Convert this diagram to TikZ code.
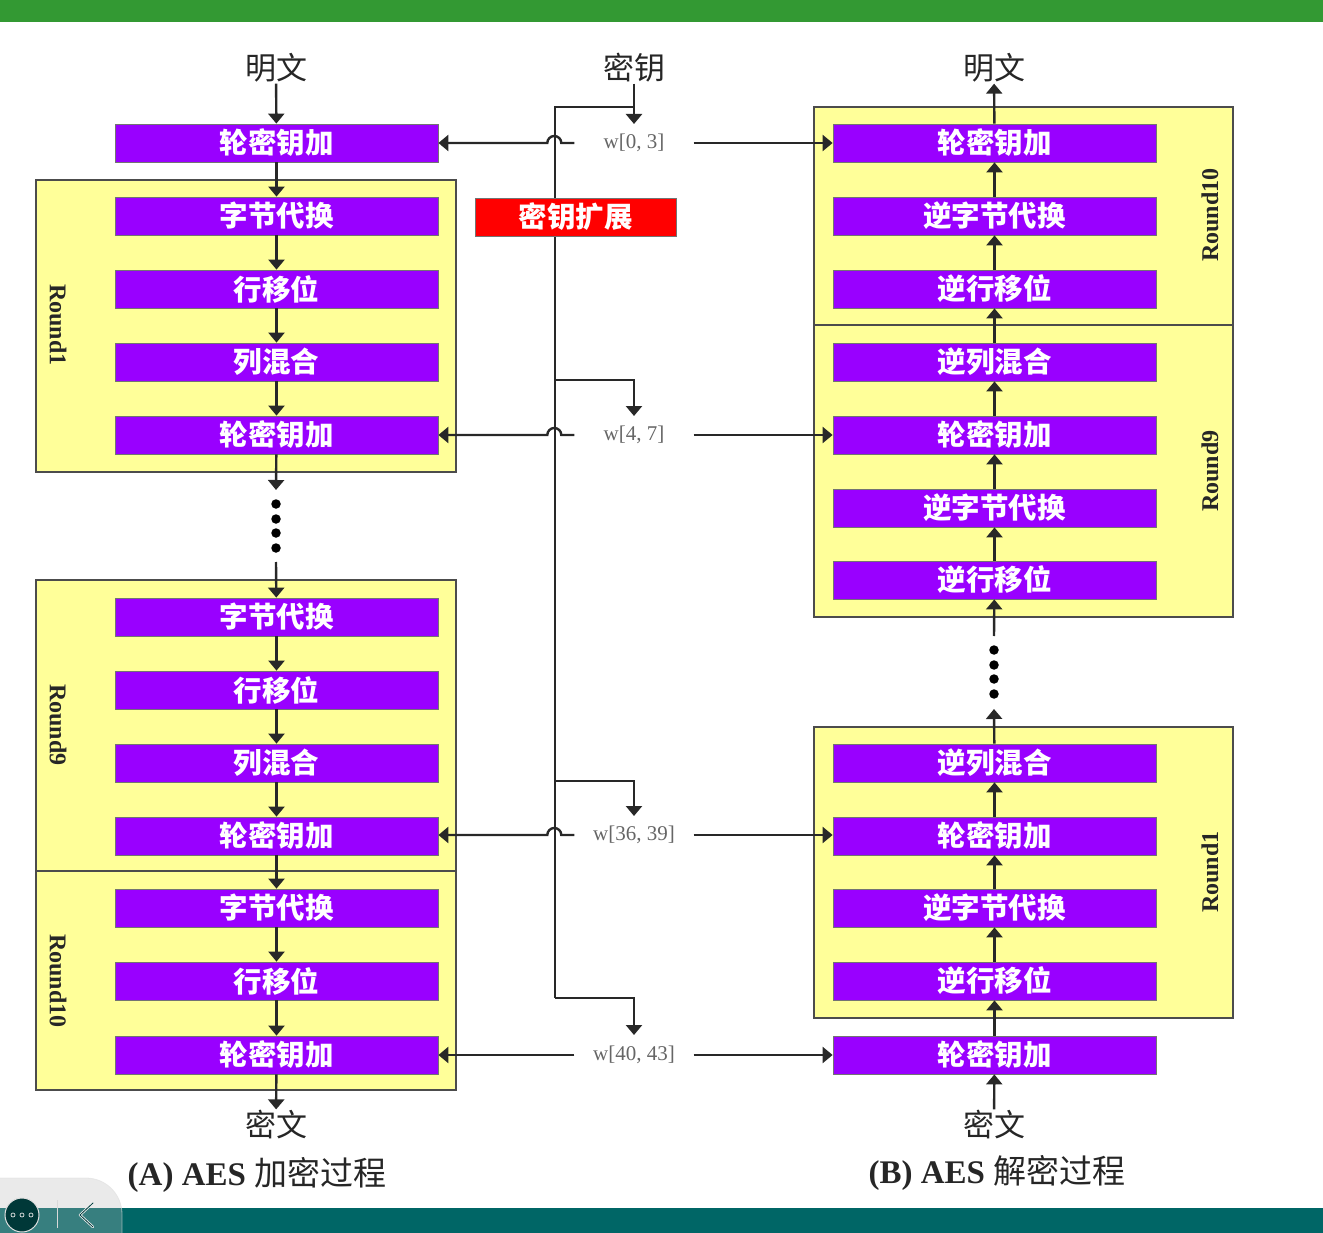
\documentclass[tikz,border=0pt]{standalone}
\usepackage{fontspec}
\setmainfont{Liberation Serif}
\newfontfamily\cjk{Noto Sans CJK SC}
\usetikzlibrary{arrows.meta}
\definecolor{topgreen}{RGB}{51,153,51}
\definecolor{botteal}{RGB}{0,102,102}
\definecolor{violetbox}{RGB}{153,0,255}
\definecolor{paleyellow}{RGB}{255,255,153}
\definecolor{keyred}{RGB}{255,0,0}
\definecolor{linegray}{RGB}{40,40,40}
\begin{document}
\begin{tikzpicture}[x=1pt,y=1pt,
  opbox/.style={fill=violetbox, draw=black!55, line width=0.8pt, minimum width=323pt, minimum height=38pt, inner sep=0pt, text=white, font=\cjk\bfseries\fontsize{28.5}{30}\selectfont},
  keybox/.style={opbox, fill=keyred, minimum width=201pt},
  frame/.style={fill=paleyellow, draw=black!70, line width=1.8pt},
  lbl/.style={font=\cjk\fontsize{31}{33}\selectfont, text=black!85, inner sep=1pt},
  rlbl/.style={font=\bfseries\fontsize{24}{26}\selectfont, text=black!85},
  wlbl/.style={font=\fontsize{21}{23}\selectfont, text=black!60, minimum width=119pt, inner sep=0pt},
  captxt/.style={font=\fontsize{33}{35}\selectfont, text=black!85},
  ln/.style={draw=linegray, line width=2.4pt},
  arr/.style={ln, -{Triangle[width=16pt,length=10pt]}},
  dotc/.style={circle, fill=black, minimum size=9.5pt, inner sep=0pt},
]
\useasboundingbox (0,0) rectangle (1323,-1233);
% bars
\fill[topgreen] (0,0) rectangle (1323,-22);
\fill[botteal] (0,-1208) rectangle (1323,-1233);

% frames left
\draw[frame] (36,-180) rectangle (456,-472);
\draw[frame] (36,-580) rectangle (456,-871);
\draw[frame] (36,-871) rectangle (456,-1090);
% frames right
\draw[frame] (814,-107) rectangle (1233,-325);
\draw[frame] (814,-325) rectangle (1233,-617);
\draw[frame] (814,-727) rectangle (1233,-1018);

% round labels
\node[rlbl, rotate=-90] (rl1) at (58,-325) {Round1};
\node[rlbl, rotate=-90] (rl9) at (58,-725) {Round9};
\node[rlbl, rotate=-90] (rl10) at (58,-981) {Round10};
\node[rlbl, rotate=90] (rr10) at (1210,-215) {Round10};
\node[rlbl, rotate=90] (rr9) at (1210,-471) {Round9};
\node[rlbl, rotate=90] (rr1) at (1210,-872) {Round1};

% left boxes
\node[opbox] (L0) at (276.5,-143) {轮密钥加};
\node[opbox] (L1a) at (276.5,-216) {字节代换};
\node[opbox] (L1b) at (276.5,-289) {行移位};
\node[opbox] (L1c) at (276.5,-362) {列混合};
\node[opbox] (L1d) at (276.5,-435) {轮密钥加};
\node[opbox] (L9a) at (276.5,-617) {字节代换};
\node[opbox] (L9b) at (276.5,-690) {行移位};
\node[opbox] (L9c) at (276.5,-763) {列混合};
\node[opbox] (L9d) at (276.5,-836) {轮密钥加};
\node[opbox] (L10a) at (276.5,-908) {字节代换};
\node[opbox] (L10b) at (276.5,-981) {行移位};
\node[opbox] (L10c) at (276.5,-1055) {轮密钥加};

% right boxes
\node[opbox] (R10a) at (994.5,-143) {轮密钥加};
\node[opbox] (R10b) at (994.5,-216) {逆字节代换};
\node[opbox] (R10c) at (994.5,-289) {逆行移位};
\node[opbox] (R9a) at (994.5,-362) {逆列混合};
\node[opbox] (R9b) at (994.5,-435) {轮密钥加};
\node[opbox] (R9c) at (994.5,-508) {逆字节代换};
\node[opbox] (R9d) at (994.5,-580) {逆行移位};
\node[opbox] (R1a) at (994.5,-763) {逆列混合};
\node[opbox] (R1b) at (994.5,-836) {轮密钥加};
\node[opbox] (R1c) at (994.5,-908) {逆字节代换};
\node[opbox] (R1d) at (994.5,-981) {逆行移位};
\node[opbox] (R0) at (994.5,-1055) {轮密钥加};

% text labels
\node[lbl] (ptL) at (276,-68) {明文};
\node[lbl] (ctL) at (276,-1125) {密文};
\node[lbl] (ptR) at (994,-68) {明文};
\node[lbl] (ctR) at (994,-1125) {密文};
\node[lbl] (key) at (634,-68) {密钥};
\node[captxt] (capA) at (257,-1175) {\bfseries (A) AES {\mdseries\cjk 加密过程}};
\node[captxt] (capB) at (997,-1173) {\bfseries (B) AES {\mdseries\cjk 解密过程}};

% left flow
\draw[arr] (ptL) -- (L0);
\draw[arr] (L0) -- (L1a);
\draw[arr] (L1a) -- (L1b);
\draw[arr] (L1b) -- (L1c);
\draw[arr] (L1c) -- (L1d);
\coordinate (ldA) at (276,-490);
\coordinate (ldB) at (276,-562);
\draw[arr] (L1d) -- (ldA);
\node[dotc] (ld1) at (276,-504) {};
\node[dotc] (ld2) at (276,-519) {};
\node[dotc] (ld3) at (276,-533) {};
\node[dotc] (ld4) at (276,-548) {};
\draw[arr] (ldB) -- (L9a);
\draw[arr] (L9a) -- (L9b);
\draw[arr] (L9b) -- (L9c);
\draw[arr] (L9c) -- (L9d);
\draw[arr] (L9d) -- (L10a);
\draw[arr] (L10a) -- (L10b);
\draw[arr] (L10b) -- (L10c);
\draw[arr] (L10c) -- (ctL);

% right flow
\draw[arr] (ctR) -- (R0);
\draw[arr] (R0) -- (R1d);
\draw[arr] (R1d) -- (R1c);
\draw[arr] (R1c) -- (R1b);
\draw[arr] (R1b) -- (R1a);
\coordinate (rdA) at (994,-709);
\coordinate (rdB) at (994,-636);
\draw[arr] (R1a) -- (rdA);
\node[dotc] (rd1) at (994,-650) {};
\node[dotc] (rd2) at (994,-665) {};
\node[dotc] (rd3) at (994,-679) {};
\node[dotc] (rd4) at (994,-694) {};
\draw[arr] (rdB) -- (R9d);
\draw[arr] (R9d) -- (R9c);
\draw[arr] (R9c) -- (R9b);
\draw[arr] (R9b) -- (R9a);
\draw[arr] (R9a) -- (R10c);
\draw[arr] (R10c) -- (R10b);
\draw[arr] (R10b) -- (R10a);
\draw[arr] (R10a) -- (ptR);

% key schedule
\node[wlbl] (w1) at (634,-143) {w[0, 3]};
\node[wlbl] (w2) at (634,-435) {w[4, 7]};
\node[wlbl] (w3) at (634,-835) {w[36, 39]};
\node[wlbl] (w4) at (634,-1055) {w[40, 43]};
\coordinate (kj) at (634,-107);
\coordinate (ktop) at (555,-107);
\coordinate (kbot) at (555,-998);
\coordinate (b2) at (555,-380);
\coordinate (b3) at (555,-781);
\coordinate (t1) at (634,-124);
\coordinate (t2) at (634,-416);
\coordinate (t3) at (634,-816);
\coordinate (t4) at (634,-1035);
\draw[arr] (key) -- (t1);
\draw[ln] (kj) -- (ktop) -- (kbot);
\draw[arr] (kbot) -| (t4);
\draw[arr] (b2) -| (t2);
\draw[arr] (b3) -| (t3);
\node[keybox] (kexp) at (575.5,-217) {密钥扩展};

% round key arrows
\draw[arr] (w1.west) -- ++(-13,0) arc[start angle=0, end angle=180, radius=7] -- (L0.east);
\draw[arr] (w2.west) -- ++(-13,0) arc[start angle=0, end angle=180, radius=7] -- (L1d.east);
\draw[arr] (w3.west) -- ++(-13,0) arc[start angle=0, end angle=180, radius=7] -- (L9d.east |- w3.west);
\draw[arr] (w4.west) -- (L10c.east);
\draw[arr] (w1.east) -- (R10a.west);
\draw[arr] (w2.east) -- (R9b.west);
\draw[arr] (w3.east) -- (R1b.west |- w3.east);
\draw[arr] (w4.east) -- (R0.west);

% screen widget overlay
\fill[gray!55, opacity=0.3] (0,-1178) -- (86,-1178) arc[start angle=90, end angle=0, radius=36] -- (122,-1233) -- (0,-1233) -- cycle;
\draw[white!75!gray, opacity=0.6, line width=0.8pt] (122,-1233) -- (122,-1214) arc[start angle=0, end angle=90, radius=36] -- (0,-1178);
\node[circle, fill=black!45!botteal, draw=white!75!gray, line width=1pt, minimum size=34pt, inner sep=0pt] (wdg) at (22,-1215) {};
\draw[white!80!gray, line width=0.7pt] (13,-1215) circle (2) (22,-1215) circle (2) (31,-1215) circle (2);
\draw[white!70!gray, line width=0.8pt] (57,-1200) -- (57,-1228);
\draw[white!85!gray, line width=2.5pt, line cap=round, line join=round] (93,-1203) -- (80,-1215) -- (93,-1227);
\draw[botteal!60!black, line width=0.8pt, line cap=round, line join=round] (93,-1203) -- (80,-1215) -- (93,-1227);
\end{tikzpicture}
\end{document}
